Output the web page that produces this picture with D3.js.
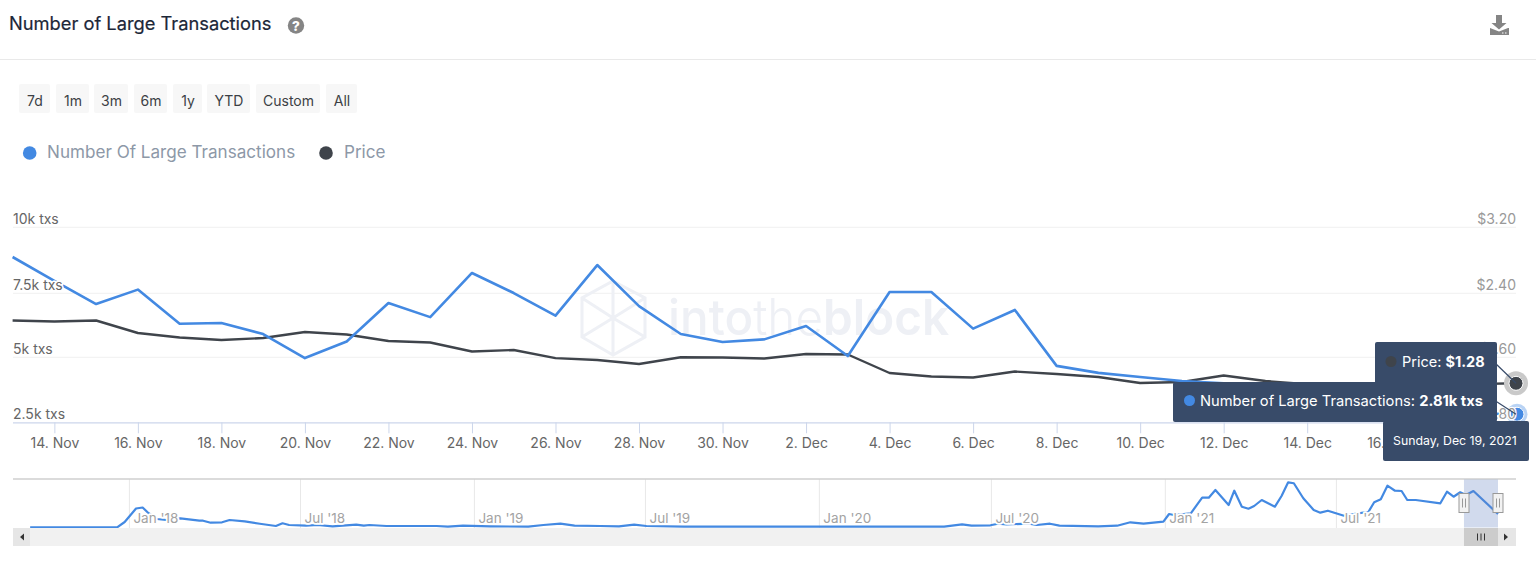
<!DOCTYPE html>
<html>
<head>
<meta charset="utf-8">
<script src="https://cdn.jsdelivr.net/npm/d3@7/dist/d3.min.js"></script>
<style>
html,body{margin:0;padding:0;background:#fff;overflow:hidden}
svg{display:block;font-family:Inter,"Noto Sans",sans-serif}
</style>
</head>
<body>
<svg id="c" width="1536" height="587"></svg>
<script>
const titleText = "Number of Large Transactions";
const rangeButtons = ["7d","1m","3m","6m","1y","YTD","Custom","All"];
const legendLabels = ["Number Of Large Transactions","Price"];
const startDate = "2021-11-13";
// thousands of transactions per day, 13 Nov - 19 Dec 2021 (values hidden under the tooltips are estimated)
const txValues = [8.875,7.97,7.08,7.64,6.31,6.34,5.91,4.97,5.62,7.12,6.57,8.27,7.51,6.63,8.57,7.0,5.91,5.60,5.70,6.22,5.05,7.55,7.55,6.12,6.85,4.67,4.40,4.24,4.09,4.0,3.9,3.6,3.3,3.2,3.0,2.85,2.81];
const priceValues = [2.06,2.048,2.06,1.904,1.848,1.816,1.841,1.916,1.885,1.804,1.785,1.673,1.691,1.59,1.567,1.518,1.60,1.598,1.585,1.641,1.635,1.407,1.364,1.351,1.425,1.394,1.358,1.284,1.296,1.376,1.308,1.27,1.25,1.24,1.26,1.27,1.28];
const txTicks = [2.5,5,7.5,10];
const priceTicks = [0.8,1.6,2.4,3.2];
const navDays = [-105,-13,-5,7,14,20,29,39,45,54,74,78,86,98,106,122,138,155,162,169,187,199,215,240,248,254,272,309,325,337,353,382,422,438,456,471,498,518,534,547,587,700,862,881,891,911,919,928,952,960,974,984,1025,1045,1059,1073,1094,1100,1105,1123,1135,1142,1149,1163,1169,1177,1184,1190,1198,1212,1219,1226,1232,1242,1253,1260,1268,1285,1311,1317,1324,1331,1339,1346,1352,1361,1387,1394,1401,1408,1414,1422,1448];
const navValues = [0.05,0.05,1.47,5.07,5.33,3.87,2.27,2.0,2.13,2.45,1.81,1.81,1.28,1.39,2.0,1.65,1.01,0.4,1.12,0.67,0.48,0.67,0.32,0.75,0.48,0.67,0.4,0.4,0.4,0.21,0.48,0.32,0.21,0.67,1.01,0.48,0.4,0.32,0.75,0.4,0.21,0.21,0.21,0.85,0.48,0.59,1.01,0.85,1.01,0.67,1.01,0.48,0.32,0.48,1.39,1.01,1.55,3.6,3.33,3.79,7.95,7.95,10.0,6.0,9.81,5.55,5.01,5.73,7.33,5.55,8.4,12.05,11.79,7.79,4.67,3.95,4.48,3.15,4.21,6.72,7.52,11.15,9.81,9.73,7.33,7.33,6.45,9.55,8.21,9.39,8.67,9.73,3.6];
const navTickDates = ["2018-01-01","2018-07-01","2019-01-01","2019-07-01","2020-01-01","2020-07-01","2021-01-01","2021-07-01"];
const navTickLabels = ["Jan '18","Jul '18","Jan '19","Jul '19","Jan '20","Jul '20","Jan '21","Jul '21"];
const tooltipPrice = ["Price: ","$1.28"];
const tooltipTx = ["Number of Large Transactions: ","2.81k txs"];
const tooltipDate = "Sunday, Dec 19, 2021";

const BLUE="#4389e2", DARK="#3f444b", TIP="#384b69";
const svg=d3.select("#c");
const parse=d3.utcParse("%Y-%m-%d");
const d0=parse(startDate);
const dates=txValues.map((_,i)=>d3.utcDay.offset(d0,i));

// header
svg.append("text").attr("x",9).attr("y",30).attr("font-size",18.3).attr("font-weight",400).attr("stroke","#1c2738").attr("stroke-width",0.2).attr("fill","#1c2738").text(titleText);
const help=svg.append("g").attr("transform","translate(296,25.5)");
help.append("circle").attr("r",8.2).attr("fill","#858585");
help.append("text").attr("text-anchor","middle").attr("y",5).attr("font-size",13.5).attr("font-weight",800).attr("fill","#fff").text("?");
svg.append("line").attr("x1",0).attr("x2",1536).attr("y1",59.5).attr("y2",59.5).attr("stroke","#e9e9e9");
const dl=svg.append("g").attr("fill","#858585");
dl.append("path").attr("d","M1496 15h6v8h4.5l-7.5 6.5-7.5-6.5h4.5z");
dl.append("path").attr("d","M1490 28l9 3.5 9-3.5h1v7h-19z");
dl.append("path").attr("d","M1502 33h1.5M1505 33h1.5").attr("stroke","#fff").attr("stroke-width",1);

// range buttons
const btnX=[19,56,94,134,173,207,256,326], btnW=[31,33,34,33,29,43,64,31];
const btn=svg.append("g").selectAll("g").data(rangeButtons).join("g").attr("transform",(d,i)=>`translate(${btnX[i]},84)`);
btn.append("rect").attr("width",(d,i)=>btnW[i]).attr("height",29).attr("rx",2).attr("fill","#f7f7f7");
btn.append("text").attr("x",(d,i)=>btnW[i]/2+0.5).attr("y",21.5).attr("text-anchor","middle").attr("font-size",14).attr("fill","#3c3f45").text(d=>d);

// legend
const legX=[29.7,326],legC=[BLUE,DARK],legT=[47,344];
const leg=svg.append("g").selectAll("g").data(legendLabels).join("g");
leg.append("circle").attr("cx",(d,i)=>legX[i]).attr("cy",153).attr("r",6.8).attr("fill",(d,i)=>legC[i]);
leg.append("text").attr("x",(d,i)=>legT[i]).attr("y",158).attr("font-size",17.1).attr("fill","#8d98a7").text(d=>d);

// scales
const x=d3.scaleUtc().domain([d0,dates[dates.length-1]]).range([12.6,1516]);
const yT=d3.scaleLinear().domain(txTicks).range([422.3,357.3,293.3,227.3]);
const yP=d3.scaleLinear().domain(priceTicks).range([422.3,357.3,293.3,227.3]);

// grid
svg.append("g").selectAll("line").data(txTicks.slice(1)).join("line")
 .attr("x1",13).attr("x2",1516).attr("y1",d=>yT(d)).attr("y2",d=>yT(d)).attr("stroke","#f1f1f1");

// watermark
const wm=svg.append("g").attr("fill","none").attr("stroke","#eef0f5").attr("stroke-width",3);
wm.append("path").attr("d","M613 281L645 298V337L613 355L582 337V298ZM582 298L613 318L645 298M582 337L613 318L645 337M613 281V318M613 318V355M582 298L613 281");
svg.append("text").attr("x",668).attr("y",335).attr("font-size",50).attr("fill","#eef0f5").attr("textLength",281).attr("lengthAdjust","spacingAndGlyphs")
 .call(t=>{t.append("tspan").attr("font-weight",500).text("into");t.append("tspan").attr("font-weight",300).text("the");t.append("tspan").attr("font-weight",600).text("block");});

// x axis
const xTicks=d3.range(1,dates.length,2).map(i=>dates[i]);
const xAxis=d3.axisBottom(x).tickValues(xTicks).tickSize(11).tickPadding(5).tickFormat(d3.utcFormat("%-d. %b"));
const gx=svg.append("g").attr("transform","translate(0,422.3)").call(xAxis);
gx.select(".domain").attr("d","M13,0.5H1516").attr("stroke","#ccd6eb").attr("stroke-width",1.3);
gx.selectAll(".tick line").attr("stroke","#ccd6eb");
gx.selectAll(".tick text").attr("font-size",14).attr("font-family","Inter").attr("fill","#666");

// lines
const lT=d3.line().x((d,i)=>x(dates[i])).y(d=>yT(d));
const lP=d3.line().x((d,i)=>x(dates[i])).y(d=>yP(d));
svg.append("path").datum(priceValues).attr("d",lP).attr("fill","none").attr("stroke",DARK).attr("stroke-width",2.4).attr("stroke-linejoin","round");
svg.append("path").datum(txValues).attr("d",lT).attr("fill","none").attr("stroke",BLUE).attr("stroke-width",2.6).attr("stroke-linejoin","round");

// y labels
const gl=svg.append("g").call(d3.axisLeft(yT).tickValues(txTicks).tickSize(0).tickFormat(d=>d+"k txs"));
gl.select(".domain").remove();
gl.selectAll("text").attr("x",13).attr("y",0).attr("dy",-4).attr("text-anchor","start").attr("font-size",14).attr("font-family","Inter").attr("fill","#666")
 .attr("stroke","#fff").attr("stroke-width",3).attr("paint-order","stroke").attr("stroke-linejoin","round");

// markers
const last=dates.length-1;
svg.append("circle").attr("cx",x(dates[last])).attr("cy",yP(priceValues[last])).attr("r",12).attr("fill","#c9c9c9");
svg.append("circle").attr("cx",x(dates[last])).attr("cy",yP(priceValues[last])).attr("r",7).attr("fill",DARK).attr("stroke","#fff").attr("stroke-width",1);
svg.append("circle").attr("cx",x(dates[last])+1).attr("cy",yT(txValues[last])).attr("r",10.5).attr("fill","#b9d3f4");
svg.append("circle").attr("cx",x(dates[last])+1).attr("cy",yT(txValues[last])).attr("r",7).attr("fill",BLUE).attr("stroke","#fff").attr("stroke-width",1);

// right labels sit above the markers
const gr=svg.append("g").attr("transform","translate(1516,0)").call(d3.axisRight(yP).tickValues(priceTicks).tickSize(0).tickFormat(d3.format("$.2f")));
gr.select(".domain").remove();
gr.selectAll("text").attr("x",0).attr("dy",-4).attr("text-anchor","end").attr("font-size",14).attr("font-family","Inter").attr("fill","#999")
 .attr("stroke","#fff").attr("stroke-width",2.5).attr("paint-order","stroke").attr("stroke-linejoin","round");

// tooltip connectors
const cn=svg.append("g").attr("stroke",TIP).attr("stroke-width",1.2);
cn.append("line").attr("x1",1494).attr("y1",362).attr("x2",x(dates[last])).attr("y2",yP(priceValues[last]));
cn.append("line").attr("x1",1494).attr("y1",400).attr("x2",x(dates[last])).attr("y2",yT(txValues[last]));

// tooltips
const tip=svg.append("g").attr("fill",TIP);
tip.append("rect").attr("x",1375).attr("y",342).attr("width",122).attr("height",42).attr("rx",2);
tip.append("rect").attr("x",1173).attr("y",382).attr("width",324).attr("height",40).attr("rx",2);
tip.append("rect").attr("x",1383).attr("y",421).attr("width",146).attr("height",40).attr("rx",2);
svg.append("circle").attr("cx",1391).attr("cy",361.5).attr("r",5.5).attr("fill",DARK);
svg.append("circle").attr("cx",1189.5).attr("cy",400.5).attr("r",5.5).attr("fill",BLUE);
const tt=(xp,yp,parts,fs)=>{const t=svg.append("text").attr("x",xp).attr("y",yp).attr("font-size",fs).attr("fill","#fff");
 t.append("tspan").text(parts[0]);t.append("tspan").attr("font-weight",700).text(parts[1]);};
tt(1402,367,tooltipPrice,14.5);
tt(1200,405.5,tooltipTx,14.7);
svg.append("text").attr("x",1393).attr("y",445).attr("font-size",12.3).attr("fill","#fff").text(tooltipDate);

// navigator
const nd0=parse("2018-01-01");
const nx=d3.scaleUtc().domain([nd0,d3.utcDay.offset(nd0,1448)]).range([129.4,1498]);
const ny=d3.scaleLinear().domain([0,12.8]).range([527.5,479.5]);
const nav=svg.append("g");
nav.append("g").selectAll("line").data(navTickDates).join("line")
 .attr("x1",d=>nx(parse(d))).attr("x2",d=>nx(parse(d))).attr("y1",479).attr("y2",528).attr("stroke","#e8e8e8");
nav.append("line").attr("x1",13).attr("x2",1516).attr("y1",479).attr("y2",479).attr("stroke","#cfcfcf").attr("stroke-width",1.5);
nav.append("path").datum(navValues).attr("fill","none").attr("stroke",BLUE).attr("stroke-width",2.2).attr("stroke-linejoin","round")
 .attr("d",d3.line().x((d,i)=>nx(d3.utcDay.offset(nd0,navDays[i]))).y(d=>ny(d)));
nav.append("g").selectAll("text").data(navTickDates).join("text")
 .attr("x",d=>nx(parse(d))+4).attr("y",523).attr("font-size",13.5).attr("fill","#a3a3a3")
 .attr("stroke","#fff").attr("stroke-width",3.5).attr("paint-order","stroke").attr("stroke-linejoin","round")
 .text((d,i)=>navTickLabels[i]);
const s0=x.domain()[0], s1=x.domain()[1];
nav.append("rect").attr("x",nx(s0)).attr("y",479.5).attr("width",nx(s1)-nx(s0)).attr("height",48).attr("fill","#6685c2").attr("fill-opacity",0.3);
// scrollbar
nav.append("rect").attr("x",13).attr("y",528).attr("width",1503).attr("height",18).attr("fill","#f1f1f1");
nav.append("rect").attr("x",13).attr("y",528).attr("width",17).attr("height",18).attr("fill","#e6e6e6");
nav.append("rect").attr("x",1498).attr("y",528).attr("width",18).attr("height",18).attr("fill","#e6e6e6");
nav.append("rect").attr("x",nx(s0)).attr("y",528).attr("width",nx(s1)-nx(s0)).attr("height",18).attr("fill","#cccccc");
nav.append("path").attr("d","M24 533.5v7l-4-3.5z M1504 533.5v7l4-3.5z").attr("fill","#333");
nav.append("path").attr("d","M1477.5 533.5v7M1481 533.5v7M1484.5 533.5v7").attr("stroke","#333").attr("stroke-width",1);
// handles
[s0,s1].forEach(d=>{const h=nav.append("g").attr("transform",`translate(${Math.round(nx(d))},503)`);
 h.append("rect").attr("x",-5).attr("y",-9.5).attr("width",10).attr("height",19).attr("fill","#f2f2f2").attr("stroke","#999");
 h.append("path").attr("d","M-1.5 -4.5v9M1.5 -4.5v9").attr("stroke","#999");});
</script>
</body>
</html>
